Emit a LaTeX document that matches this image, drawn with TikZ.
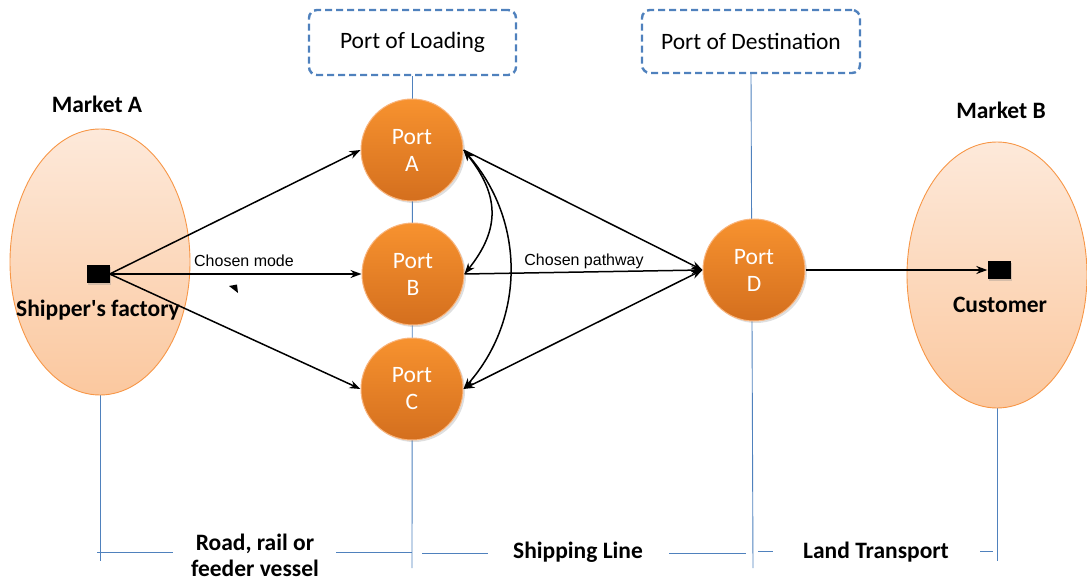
\documentclass[tikz,border=0pt]{standalone}
\usepackage{fontspec}
\setmainfont{Carlito}
\newfontfamily\arialfont{Liberation Sans}
\newfontfamily\plaincarlito{Carlito}[Ligatures=ResetAll]
\usetikzlibrary{arrows.meta,calc,shadows,shapes.geometric}
\definecolor{lineblue}{HTML}{4F81BD}
\definecolor{boxblue}{HTML}{4F81BD}
\definecolor{orangeA}{HTML}{F7922F}
\definecolor{orangeB}{HTML}{D46F1E}
\definecolor{orangeEdge}{HTML}{F79646}
\definecolor{peachT}{HTML}{FDE9DA}
\definecolor{peachB}{HTML}{FBC89F}
\tikzset{
  market/.style={ellipse, draw=orangeEdge, line width=0.9pt, top color=peachT, bottom color=peachB, minimum width=180pt, minimum height=266pt, inner sep=0pt},
  port/.style={circle, draw=orangeEdge!70!white, line width=1pt, top color=orangeA, bottom color=orangeB, minimum size=102pt, inner sep=0pt, text=white, font=\fontsize{23.5}{27}\selectfont, align=center, drop shadow={opacity=0.25, shadow xshift=2pt, shadow yshift=-2pt}},
  label box/.style={draw=boxblue, dashed, dash pattern=on 7pt off 4pt, line width=2.4pt, rounded corners=8pt, inner sep=0pt, font=\fontsize{23.5}{27}\selectfont},
  bold label/.style={font=\fontsize{23.5}{26}\selectfont\bfseries, align=center},
  small label/.style={font=\arialfont\fontsize{16}{18}\selectfont},
  sq/.style={fill=black, minimum width=23pt, minimum height=18pt, inner sep=0pt, drop shadow={opacity=0.3, shadow xshift=1.5pt, shadow yshift=-1.5pt}},
  bline/.style={draw=lineblue, line width=0.9pt},
  arr/.style={draw=black, line width=1.5pt, -{Stealth[length=11pt, width=8pt]}},
  darr/.style={draw=black, line width=1.5pt, {Stealth[length=11pt, width=8pt]}-{Stealth[length=11pt, width=8pt]}},
}
\begin{document}
\begin{tikzpicture}[x=1pt, y=-1pt]
\useasboundingbox (0,0) rectangle (1087,583);

% label boxes
\node[label box, minimum width=207pt, minimum height=65pt] (pol) at (412.5,42.5) {Port of Loading};
\node[label box, minimum width=218pt, minimum height=63pt] (pod) at (751,41.5) {Port of Destination};

% blue guide lines
\coordinate (vA1) at (100,395);
\coordinate (vA2) at (100,561);
\coordinate (vL2) at (412,568);
\coordinate (vD2) at (753,568);
\coordinate (vB1) at (997,408);
\coordinate (vB2) at (997,561);
\draw[bline] (vA1) -- (vA2);
\draw[bline] (pol.south) -- (vL2);
\draw[bline] (pod.south) -- (vD2);
\draw[bline] (vB1) -- (vB2);
\coordinate (h1a) at (97,552);  \coordinate (h1b) at (173,552);
\coordinate (h2a) at (336,552); \coordinate (h2b) at (412,552);
\coordinate (h3a) at (422,553); \coordinate (h3b) at (488,553);
\coordinate (h4a) at (669,553); \coordinate (h4b) at (746,553);
\coordinate (h5a) at (758,551); \coordinate (h5b) at (773,551);
\coordinate (h6a) at (980,551); \coordinate (h6b) at (993,551);
\draw[bline] (h1a) -- (h1b);
\draw[bline] (h2a) -- (h2b);
\draw[bline] (h3a) -- (h3b);
\draw[bline] (h4a) -- (h4b);
\draw[bline] (h5a) -- (h5b);
\draw[bline] (h6a) -- (h6b);

% bottom labels
\node[bold label] (road) at (255,555) {Road, rail or\\feeder vessel};
\node[bold label] (ship) at (578,552) {Shipping Line};
\node[bold label] (land) at (876,552) {Land Transport};

% markets
\node[market] (mA) at (100,262) {};
\node[market] (mB) at (997,275) {};
\node[bold label] (mAt) at (97,104) {Market A};
\node[bold label] (mBt) at (1001,110) {Market B};

% ports
\node[port] (A) at (412,150) {Port\\A};
\node[port] (B) at (413,274) {Port\\B};
\node[port] (C) at (412,389) {Port\\C};
\node[port] (D) at (754,270) {Port\\D};

% factory and customer
\node[sq] (fac) at (98,274) {};
\node[sq] (cus) at (999,270) {};
\node[bold label, font=\plaincarlito\fontsize{23.5}{26}\selectfont\bfseries] (fact) at (98,310) {Shipper's factory};
\node[bold label] (cust) at (1000,305) {Customer};

% connectors
\draw[arr] (fac.east) -- (A.west);
\draw[arr] (fac.east) -- (B.west);
\draw[arr] (fac.east) -- (C.west);
\draw[arr] (A.east) -- (D.west);
\draw[arr] (B.east) -- (D.west);
\draw[darr] (C.east) -- (D.west);
\draw[darr] (A.east) .. controls ($(A.east)+(36,45)$) and ($(B.east)+(36,-45)$) .. (B.east);
\draw[darr] (A.east) .. controls ($(A.east)+(62,70)$) and ($(C.east)+(62,-70)$) .. (C.east);
\draw[arr] (D.east) -- (cus.west);

\node[small label] (cm) at (244,261) {Chosen mode};
\node[small label] (cp) at (584,261) {Chosen pathway};

% stray arrowhead
\fill (229,286) -- (237,284.5) -- (238,293) -- cycle;
\end{tikzpicture}
\end{document}
